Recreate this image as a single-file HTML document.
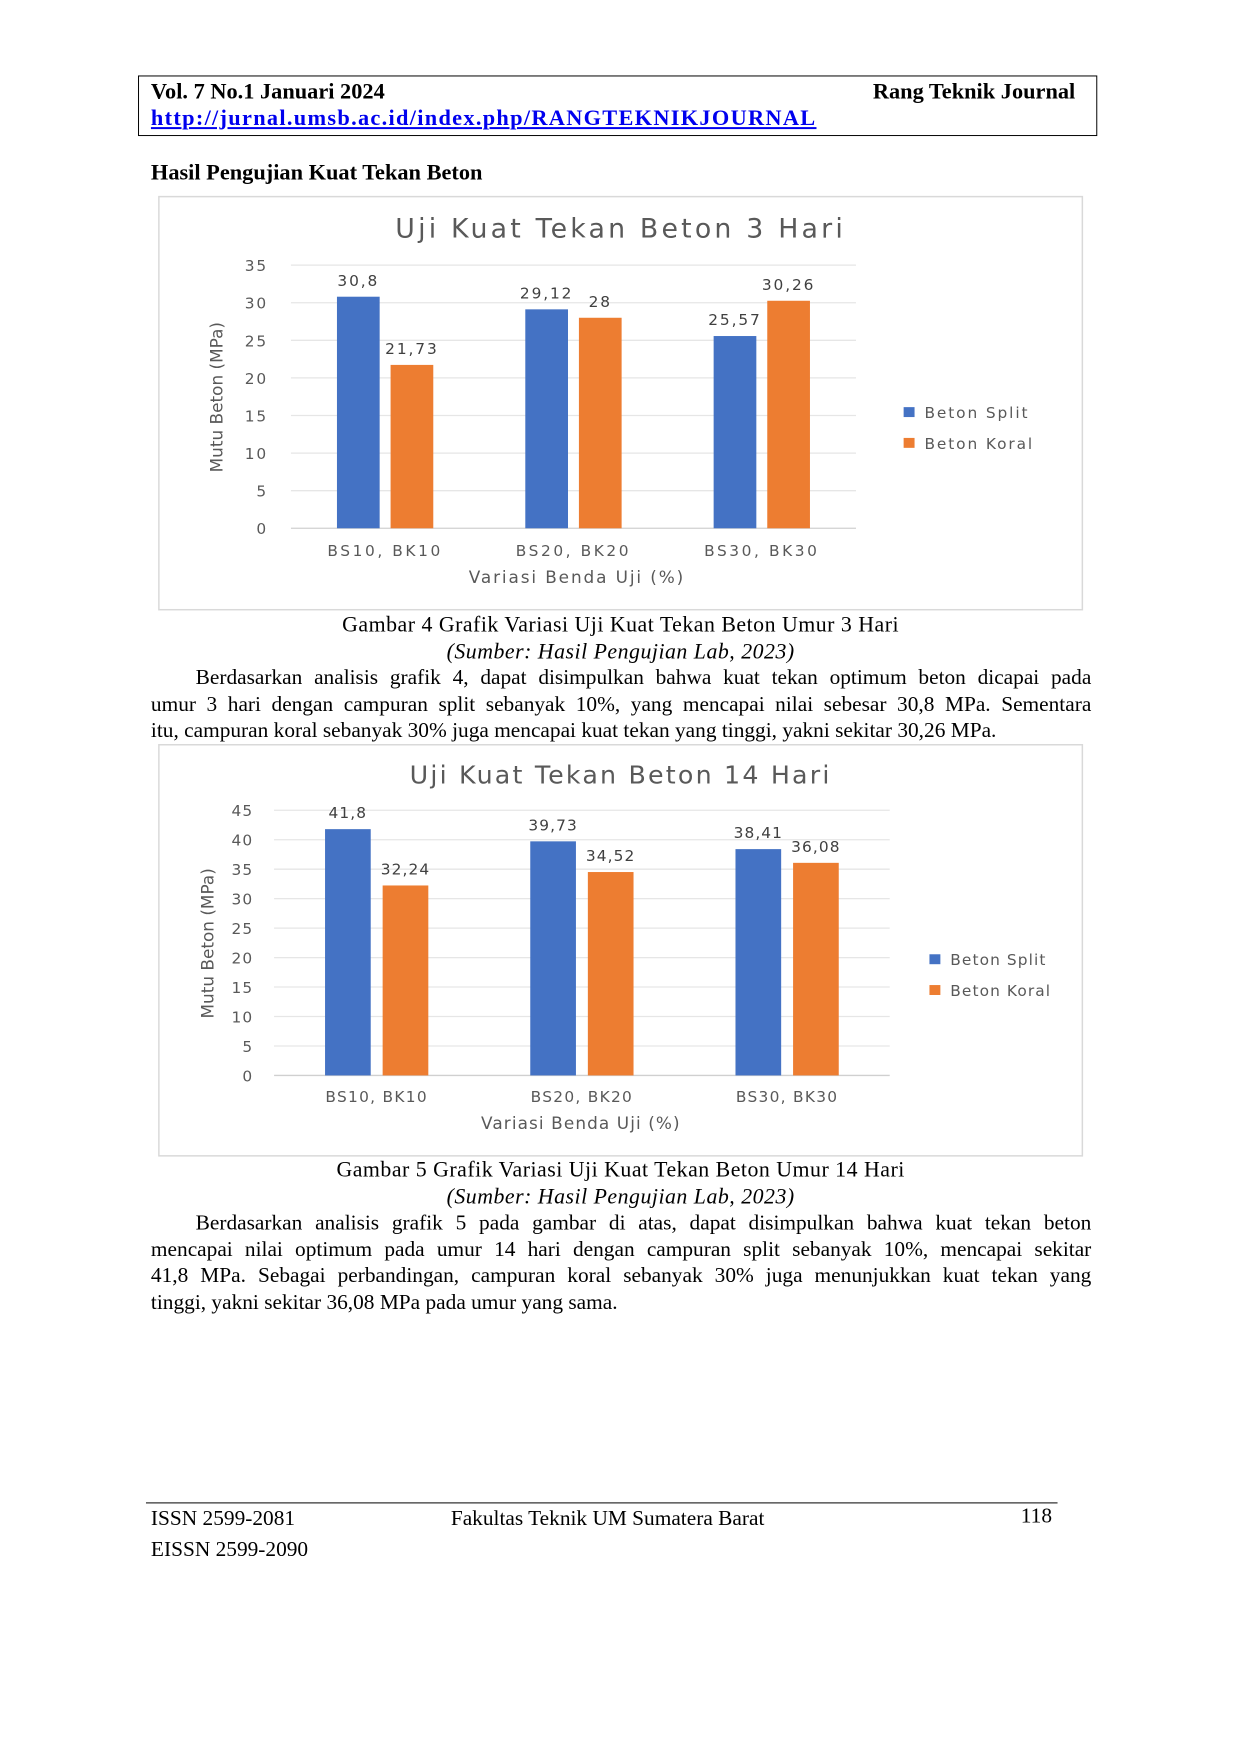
<!DOCTYPE html>
<html><head><meta charset="utf-8">
<style>
body{margin:0;background:#fff;}
#wrap{position:relative;width:1240px;height:1753px;overflow:hidden;background:#fff;}
#page{position:absolute;left:0;top:0;width:1240px;height:1753px;background:#fff;font-family:"Liberation Serif",serif;color:#000;transform:scale(0.993);transform-origin:0 0;}
.abs{position:absolute;white-space:nowrap;}
.para{position:absolute;left:152px;width:947px;font-size:21.5px;line-height:26.5px;}
.para div{text-align:justify;text-align-last:justify;white-space:nowrap;}
.para div.last{text-align-last:left;}
.para div.first{padding-left:45px;}
.cap{position:absolute;left:0;width:1250px;text-align:center;font-size:22px;letter-spacing:0.5px;}
svg text{font-family:"DejaVu Sans","Liberation Sans",sans-serif;}
</style></head>
<body>
<div id="wrap">
<div id="page">
 <div class="abs" style="left:139px;top:76px;width:966px;height:61px;border:1.5px solid #000;box-sizing:border-box;"></div>
 <div class="abs" style="left:152px;top:79px;font-size:22.5px;font-weight:bold;">Vol. 7 No.1 Januari 2024</div>
 <div class="abs" style="left:879px;top:79px;font-size:22.5px;font-weight:bold;">Rang Teknik Journal</div>
 <div class="abs" style="left:152px;top:106px;font-size:22.5px;letter-spacing:1.3px;font-weight:bold;color:#0000ee;text-decoration:underline;">http://jurnal.umsb.ac.id/index.php/RANGTEKNIKJOURNAL</div>
 <div class="abs" style="left:152px;top:161px;font-size:22.5px;font-weight:bold;">Hasil Pengujian Kuat Tekan Beton</div>

 <svg class="abs" id="chart1" style="left:0;top:0;" width="1240" height="1753"></svg>

 <div class="cap" style="top:616px;">Gambar 4 Grafik Variasi Uji Kuat Tekan Beton Umur 3 Hari</div>
 <div class="cap" style="top:643px;font-style:italic;">(Sumber: Hasil Pengujian Lab, 2023)</div>
 <div class="para" style="top:669px;">
  <div class="first">Berdasarkan analisis grafik 4, dapat disimpulkan bahwa kuat tekan optimum beton dicapai pada</div>
  <div>umur 3 hari dengan campuran split sebanyak 10%, yang mencapai nilai sebesar 30,8 MPa. Sementara</div>
  <div class="last">itu, campuran koral sebanyak 30% juga mencapai kuat tekan yang tinggi, yakni sekitar 30,26 MPa.</div>
 </div>

 <div class="cap" style="top:1165px;">Gambar 5 Grafik Variasi Uji Kuat Tekan Beton Umur 14 Hari</div>
 <div class="cap" style="top:1192px;font-style:italic;">(Sumber: Hasil Pengujian Lab, 2023)</div>
 <div class="para" style="top:1218px;">
  <div class="first">Berdasarkan analisis grafik 5 pada gambar di atas, dapat disimpulkan bahwa kuat tekan beton</div>
  <div>mencapai nilai optimum pada umur 14 hari dengan campuran split sebanyak 10%, mencapai sekitar</div>
  <div>41,8 MPa. Sebagai perbandingan, campuran koral sebanyak 30% juga menunjukkan kuat tekan yang</div>
  <div class="last">tinggi, yakni sekitar 36,08 MPa pada umur yang sama.</div>
 </div>

 <div class="abs" style="left:147px;top:1513px;width:918px;height:0;border-top:1.5px solid #000;"></div>
 <div class="abs" style="left:152px;top:1517px;font-size:21.5px;">ISSN 2599-2081</div>
 <div class="abs" style="left:152px;top:1548px;font-size:21.5px;">EISSN 2599-2090</div>
 <div class="abs" style="left:454px;top:1517px;font-size:21.5px;">Fakultas Teknik UM Sumatera Barat</div>
 <div class="abs" style="left:1028px;top:1514px;font-size:21.5px;">118</div>
</div>
</div>
<script>
const categories = ["BS10, BK10","BS20, BK20","BS30, BK30"];
const split3 = [30.8, 29.12, 25.57];
const koral3 = [21.73, 28, 30.26];
const labelsSplit3 = ["30,8","29,12","25,57"];
const labelsKoral3 = ["21,73","28","30,26"];
const ticks3 = [0,5,10,15,20,25,30,35];
const split14 = [41.8, 39.73, 38.41];
const koral14 = [32.24, 34.52, 36.08];
const labelsSplit14 = ["41,8","39,73","38,41"];
const labelsKoral14 = ["32,24","34,52","36,08"];
const ticks14 = [0,5,10,15,20,25,30,35,40,45];

const NS="http://www.w3.org/2000/svg";
function mk(parent,tag,attrs,text){const e=document.createElementNS(NS,tag);for(const k in attrs)e.setAttribute(k,attrs[k]);if(text!==undefined)e.textContent=text;parent.appendChild(e);return e;}

function drawChart(cfg){
  const svg=document.getElementById('chart1');
  const g=mk(svg,'g',{});
  
  
  const ls_=cfg.ls_;
  const fr=mk(g,'rect',{x:cfg.box[0],y:cfg.box[1],width:cfg.box[2],height:cfg.box[3],fill:'#fff',stroke:'#d9d9d9','stroke-width':1.5});
  
  
  const t=mk(g,'text',{x:cfg.titleX,y:cfg.titleY,'font-size':cfg.titleSize,fill:'#595959','text-anchor':'middle','letter-spacing':cfg.titleLs},cfg.title);
  
  
  const max=cfg.ticks[cfg.ticks.length-1];
  const y=v=>cfg.y0-(v/max)*(cfg.y0-cfg.yTop);
  const n=categories.length;
  const bandW=(cfg.x1-cfg.x0)/n;
  const cx=i=>cfg.x0+bandW*(i+0.5);
  cfg.ticks.forEach(v=>{
    const l=mk(g,'line',{x1:cfg.x0,x2:cfg.x1,y1:y(v),y2:y(v),stroke:v===0?'#d0d0d0':'#e6e6e6','stroke-width':1.3});
    
    
    const tl=mk(g,'text',{x:cfg.tickX,y:y(v)+6,'font-size':15.5,fill:'#595959','text-anchor':'end','letter-spacing':ls_},String(v));
    
    
  });
  const bw=cfg.barW, gap=cfg.gap;
  categories.forEach((c,i)=>{
    const xb=cx(i)-gap/2-bw, xo=cx(i)+gap/2;
    const b=mk(g,'rect',{x:xb,y:y(cfg.split[i]),width:bw,height:cfg.y0-y(cfg.split[i]),fill:'#4472c4'});
    
    
    const o=mk(g,'rect',{x:xo,y:y(cfg.koral[i]),width:bw,height:cfg.y0-y(cfg.koral[i]),fill:'#ed7d31'});
    
    
    const ls=mk(g,'text',{x:xb+bw/2,y:y(cfg.split[i])-11,'font-size':15.5,fill:'#404040','text-anchor':'middle','letter-spacing':ls_},cfg.ls[i]);
    
    
    const lk=mk(g,'text',{x:xo+bw/2,y:y(cfg.koral[i])-11,'font-size':15.5,fill:'#404040','text-anchor':'middle','letter-spacing':ls_},cfg.lk[i]);
    
    
    const cl=mk(g,'text',{x:cx(i),y:cfg.catY,'font-size':15.5,fill:'#595959','text-anchor':'middle','letter-spacing':cfg.catLs},c);
    
    
  });
  const xt=mk(g,'text',{x:cfg.xTitleX,y:cfg.xTitleY,'font-size':17,fill:'#595959','text-anchor':'middle','letter-spacing':ls_},'Variasi Benda Uji (%)');
  
  
  const yt=mk(g,'text',{x:0,y:0,'font-size':17,fill:'#595959','text-anchor':'middle',transform:`translate(${cfg.yTitleX},${cfg.yTitleY}) rotate(-90)`,'font-family':'Liberation Sans Narrow, Liberation Sans, sans-serif'},'Mutu Beton (MPa)');
  
  
  [['Beton Split','#4472c4',cfg.legY[0]],['Beton Koral','#ed7d31',cfg.legY[1]]].forEach(([nm,col,ly])=>{
    const sq=mk(g,'rect',{x:cfg.legX,y:ly-5,width:11,height:10,fill:col});
    
    
    const lt=mk(g,'text',{x:cfg.legX+21,y:ly+6,'font-size':15.5,fill:'#595959','letter-spacing':ls_},nm);
    
    
  });
}
drawChart({name:'chart-3-days',box:[160,198,930,416],title:'Uji Kuat Tekan Beton 3 Hari',titleX:625,titleY:239,titleSize:27,titleLs:3.2,ls_:1.9,catLs:2.6,
  ticks:ticks3,split:split3,koral:koral3,ls:labelsSplit3,lk:labelsKoral3,
  x0:293,x1:862,y0:532,yTop:267,tickX:270,barW:43,gap:11,catY:560,xTitleX:581,xTitleY:587,yTitleX:224,yTitleY:400,legX:910,legY:[415,446]});
drawChart({name:'chart-14-days',box:[160,750,930,414],title:'Uji Kuat Tekan Beton 14 Hari',titleX:625,titleY:789,titleSize:25.5,titleLs:2.2,ls_:1.1,catLs:1.3,
  ticks:ticks14,split:split14,koral:koral14,ls:labelsSplit14,lk:labelsKoral14,
  x0:276,x1:896,y0:1083,yTop:816,tickX:255,barW:46,gap:12,catY:1110,xTitleX:585,xTitleY:1137,yTitleX:215,yTitleY:950,legX:936,legY:[966,997]});
</script>
</body></html>
